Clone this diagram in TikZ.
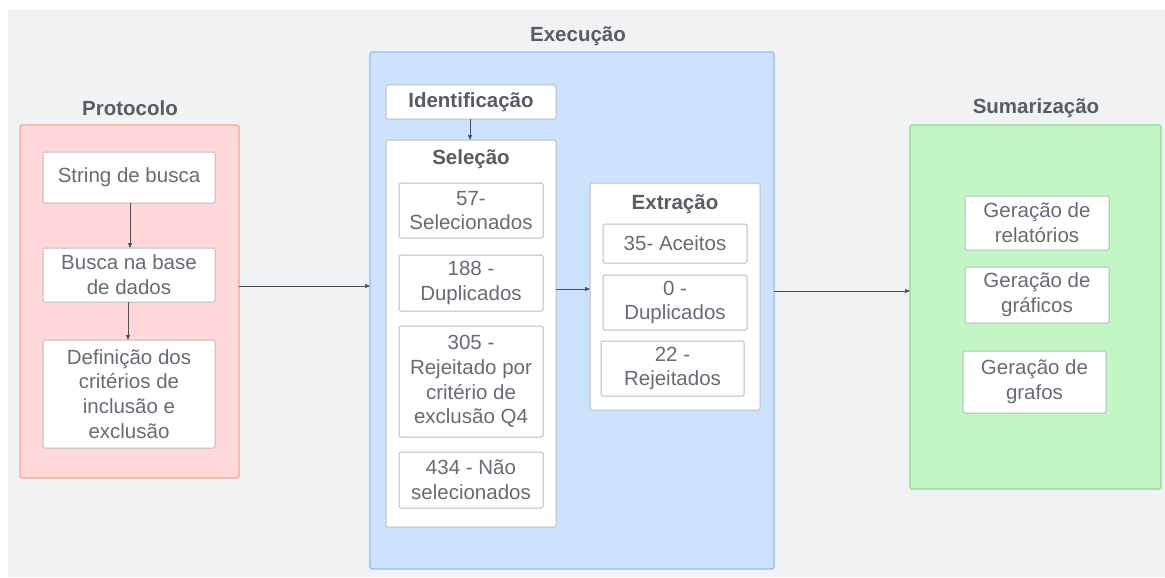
\documentclass[tikz,border=0pt]{standalone}
\usepackage{fontspec}
\setmainfont{Liberation Sans}
\usetikzlibrary{arrows.meta}
\definecolor{bgc}{HTML}{F1F2F4}
\definecolor{txt}{HTML}{676B73}
\definecolor{ttl}{HTML}{585C63}
\definecolor{pinkf}{HTML}{FFD9D9}
\definecolor{pinkd}{HTML}{F2A795}
\definecolor{bluef}{HTML}{CDE2FD}
\definecolor{blued}{HTML}{94BCF0}
\definecolor{greenf}{HTML}{C2F6C5}
\definecolor{greend}{HTML}{8ED796}
\definecolor{boxd}{HTML}{B9BCC2}
\definecolor{arr}{HTML}{4A4E55}
\begin{document}
\begin{tikzpicture}[x=1pt,y=-1pt,
  every node/.style={font=\fontsize{20.5}{24.7}\selectfont, text=txt, align=center, inner sep=0pt},
  group/.style={draw, line width=1.1pt, rounded corners=1.5pt},
  card/.style={draw=boxd, fill=white, line width=1pt, rounded corners=1.5pt},
  ttlstyle/.style={font=\fontsize{20.5}{24.7}\selectfont\bfseries, text=ttl},
  conn/.style={draw=arr, line width=0.6pt, -{Triangle[length=5pt,width=4pt]}}
]
\useasboundingbox (0,0) rectangle (1165,578);
\fill[white] (0,0) rectangle (1165,578);
\fill[bgc] (8,10) rectangle (1165,577);

% Protocolo
\node[ttlstyle] (tprot) at (130,108) {Protocolo};
\draw[group, draw=pinkd, fill=pinkf] (20,125) rectangle (239,478);
\coordinate (protR) at (239,286);
\draw[card] (43,152) rectangle (215,203); \node (p1) at (129,177.5) {String de busca};
\coordinate (p1b) at (130,203);
\draw[card] (43,248) rectangle (215,302); \node (p2) at (129,275) {Busca na base\\de dados};
\coordinate (p2t) at (130,248); \coordinate (p2b) at (128,302);
\draw[card] (43,340) rectangle (215,448); \node (p3) at (129,394) {Definição dos\\critérios de\\inclusão e\\exclusão};
\coordinate (p3t) at (128,340);
\draw[conn] (p1b) -- (p2t);
\draw[conn] (p2b) -- (p3t);

% Execução
\node[ttlstyle] (texec) at (578,36) {Execução};
\draw[group, draw=blued, fill=bluef] (370,52) rectangle (774,569);
\coordinate (execL) at (370,286);
\coordinate (execR) at (774,291);
\draw[card] (386,85) rectangle (556,119); \node[ttlstyle] (ident) at (471,102) {Identificação};
\coordinate (identb) at (470,119);
\draw[card] (386,140) rectangle (556,527); \node[ttlstyle] (tsel) at (471,159) {Seleção};
\coordinate (selt) at (470,140); \coordinate (selR) at (556,289);
\draw[card] (399,183) rectangle (543,238); \node (s1) at (471,210.5) {57-\\Selecionados};
\draw[card] (399,255) rectangle (543,311); \node (s2) at (471,283) {188 -\\Duplicados};
\draw[card] (399,326) rectangle (543,437); \node (s3) at (471,381.5) {305 -\\Rejeitado por\\critério de\\exclusão Q4};
\draw[card] (399,452) rectangle (543,508); \node (s4) at (471,480) {434 - Não\\selecionados};
\draw[card] (590,183) rectangle (760,410); \node[ttlstyle] (textr) at (675,204) {Extração};
\coordinate (extL) at (590,289);
\draw[card] (603,224) rectangle (747,263); \node (e1) at (675,243.5) {35- Aceitos};
\draw[card] (603,275) rectangle (747,330); \node (e2) at (675,302.5) {0 -\\Duplicados};
\draw[card] (601,341) rectangle (744,396); \node (e3) at (672.5,368.5) {22 -\\Rejeitados};
\draw[conn] (identb) -- (selt);
\draw[conn] (selR) -- (extL);

% Sumarização
\node[ttlstyle] (tsum) at (1036,108) {Sumarização};
\draw[group, draw=greend, fill=greenf] (910,125) rectangle (1161,489);
\coordinate (sumL) at (910,291);
\draw[card] (965,196) rectangle (1109,250); \node (g1) at (1037,223) {Geração de\\relatórios};
\draw[card] (965,267) rectangle (1109,323); \node (g2) at (1037,295) {Geração de\\gráficos};
\draw[card] (963,351) rectangle (1106,413); \node (g3) at (1034.5,382) {Geração de\\grafos};

\draw[conn] (protR) -- (execL);
\draw[conn] (execR) -- (sumL);
\end{tikzpicture}
\end{document}
